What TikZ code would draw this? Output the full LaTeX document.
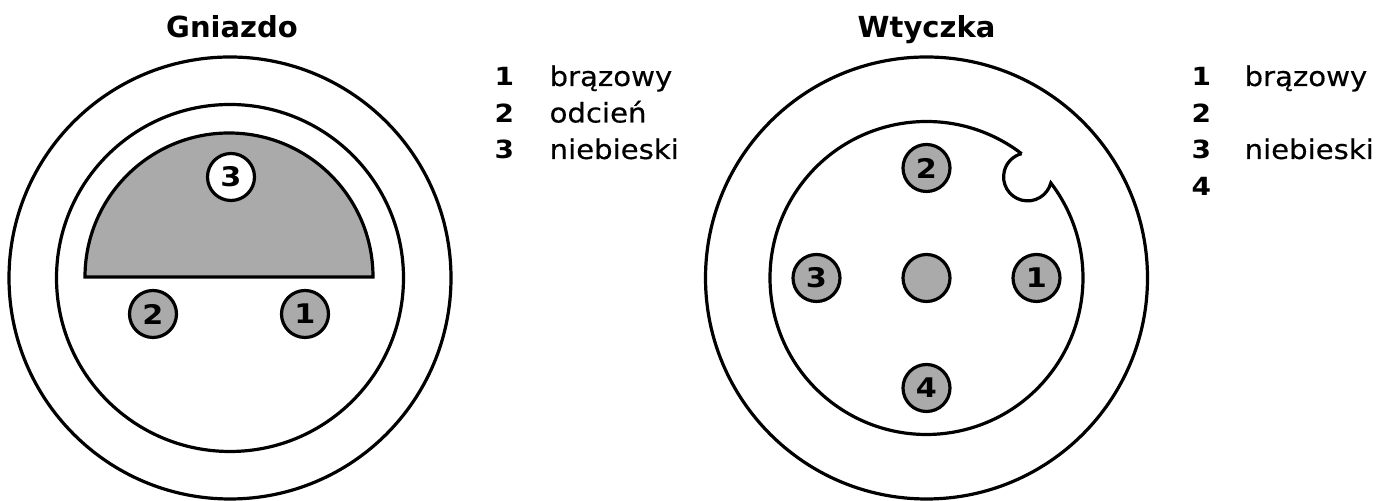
\documentclass[tikz,border=0pt]{standalone}
\usepackage{fontspec}
\setmainfont{DejaVu Sans}
\newfontfamily\legendfont[FakeStretch=1.12]{DejaVu Sans}
\newfontfamily\colourfont[FakeStretch=1.08,FakeBold=0.4]{DejaVu Sans}
\usetikzlibrary{positioning}
\definecolor{pingray}{HTML}{AAAAAA}

\begin{document}
\begin{tikzpicture}[x=0.5pt,y=0.5pt,line width=1.6pt,
  pin/.style={circle,draw,fill=pingray,minimum size=23.5pt,inner sep=0pt,
    font=\legendfont\fontsize{13.5}{16}\selectfont\bfseries},
  title/.style={anchor=base,inner sep=0pt,font=\fontsize{14.5}{17}\selectfont\bfseries},
  num/.style={anchor=base west,inner sep=0pt,font=\legendfont\fontsize{12.5}{15}\selectfont\bfseries},
  colour/.style={anchor=base west,inner sep=0pt,font=\colourfont\fontsize{13.5}{16}\selectfont}]
\useasboundingbox (0,0) rectangle (1392,501);
\coordinate (gn) at (230,223);
\coordinate (wt) at (926.5,223);

% Gniazdo
\node[title] (gtitle) at (232,463) {Gniazdo};
\draw (gn) circle[radius=221];
\draw (gn) circle[radius=173.5];
\draw[fill=pingray] (85,224) arc[start angle=180,end angle=0,radius=144] -- cycle;
\node[pin,fill=white] (g3) at (231,324) {3};
\node[pin] (g2) at (153,187) {2};
\node[pin] (g1) at (305,187) {1};
\foreach \n/\t [count=\i] in {1/brązowy,2/odcień,3/niebieski}{
  \node[num] (gnum\n) at (493,{415-36.5*(\i-1)}) {\n};
  \node[colour] (gtxt\n) at (548,{415-36.5*(\i-1)}) {\t};
}

% Wtyczka
\node[title] (wtitle) at (926.5,463) {Wtyczka};
\draw (wt) circle[radius=221];
\draw (wt) ++(52.6:156.5) arc[start angle=52.6,end angle=397.4,radius=156.5]
  arc[start angle=-14.6,end angle=-255.4,radius=24] -- cycle;
\node[pin] (wc) at (wt) {};
\foreach \n/\a in {1/0,2/90,3/180,4/270}
  \node[pin] (w\n) at ([shift={(\a:110)}]wt) {\n};
\foreach \n [count=\i] in {1,...,4}
  \node[num] (wnum\n) at (1190,{415-36.5*(\i-1)}) {\n};
\node[colour] (wtxt1) at (1243,415) {brązowy};
\node[colour] (wtxt3) at (1243,342) {niebieski};
\end{tikzpicture}
\end{document}
